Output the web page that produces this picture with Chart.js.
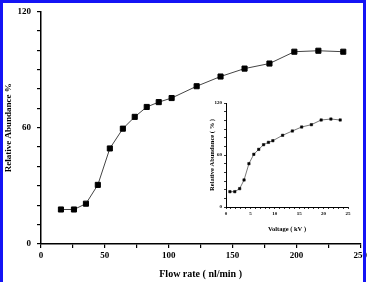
<!DOCTYPE html>
<html>
<head>
<meta charset="utf-8">
<script src="https://cdn.jsdelivr.net/npm/chart.js@4"></script>
<style>
  html, body { margin: 0; padding: 0; background: #fff; }
  .wrap { position: relative; width: 369px; height: 282px; overflow: hidden; }
  .frame {
    position: absolute; left: 0; top: 0; width: 360px; height: 282px;
    border-left: 3px solid #1414f5; border-top: 3px solid #1414f5; border-right: 3px solid #1414f5;
    box-sizing: content-box;
  }
  #main { position: absolute; left: 0; top: 0; }
  #inset { position: absolute; left: 200px; top: 95px; }
</style>
</head>
<body>
<div class="wrap">
  <canvas id="main" width="369" height="282"></canvas>
  <canvas id="inset" width="160" height="140"></canvas>
  <div class="frame"></div>
</div>
<script>
// main plot: flow rate vs relative abundance
const flowRates = [15.6, 25.8, 35.2, 44.5, 53.9, 64.1, 73.4, 82.8, 92.2, 102.3,
                   121.9, 140.6, 159.4, 178.9, 198.4, 217.2, 236.7];
const flowAbundance = [17.8, 17.8, 20.8, 30.5, 49.3, 59.5, 65.6, 70.7, 73.2, 75.3,
                       81.4, 86.4, 90.5, 93.1, 99.2, 99.7, 99.2];

// inset: voltage vs relative abundance
const voltages = [0.8, 1.8, 2.8, 3.7, 4.7, 5.7, 6.7, 7.7, 8.7, 9.6,
                  11.6, 13.6, 15.5, 17.5, 19.5, 21.5, 23.4];
const voltAbundance = [17.7, 17.7, 21.2, 31.2, 50.0, 60.8, 66.5, 71.9, 74.6, 76.5,
                       82.7, 87.7, 92.3, 95.0, 100.4, 101.5, 100.4];

const mainYLabels = [0, 60, 120];
const mainXLabels = [0, 50, 100, 150, 200, 250];
const insetYLabels = [0, 60, 120];
const insetXLabels = [0, 5, 10, 15, 20, 25];

const serif = 'Liberation Serif';

function toPoints(xs, ys) {
  return xs.map((x, i) => ({ x: x, y: ys[i] }));
}

// Main chart
new Chart(document.getElementById('main').getContext('2d'), {
  type: 'scatter',
  data: {
    datasets: [{
      data: toPoints(flowRates, flowAbundance),
      showLine: true,
      borderColor: '#444',
      borderWidth: 1,
      pointStyle: 'rect',
      pointRadius: 3.6,
      pointBackgroundColor: '#000',
      pointBorderColor: '#000',
      pointBorderWidth: 1
    }]
  },
  options: {
    responsive: false,
    animation: false,
    layout: { padding: { left: 0, top: 8, right: 8, bottom: 0 } },
    plugins: { legend: { display: false }, tooltip: { enabled: false } },
    scales: {
      x: {
        type: 'linear', min: 0, max: 250,
        afterFit: (s) => { s.height = 38; },
        border: { display: true, color: '#000', width: 1.5 },
        grid: { drawOnChartArea: false, drawTicks: true, tickLength: 4, color: '#000', lineWidth: 1.2 },
        ticks: {
          stepSize: 25, autoSkip: false, maxRotation: 0, padding: 2, color: '#000',
          font: { family: serif, size: 9, weight: 'bold' },
          callback: (v) => mainXLabels.includes(v) ? String(v) : ''
        },
        title: {
          display: true, text: 'Flow rate ( nl/min )', color: '#000',
          font: { family: serif, size: 10, weight: 'bold' },
          padding: { top: 0, bottom: 2 }
        }
      },
      y: {
        type: 'linear', min: 0, max: 120,
        afterFit: (s) => { s.width = 41; },
        border: { display: true, color: '#000', width: 1.5 },
        grid: { drawOnChartArea: false, drawTicks: true, tickLength: 4, color: '#000', lineWidth: 1.2 },
        ticks: {
          stepSize: 10, autoSkip: false, padding: 6, color: '#000',
          font: { family: serif, size: 9, weight: 'bold' },
          callback: (v) => mainYLabels.includes(v) ? String(v) : ''
        },
        title: {
          display: true, text: 'Relative Abundance %', color: '#000',
          font: { family: serif, size: 9, weight: 'bold' },
          padding: { top: 3, bottom: 0 }
        }
      }
    }
  }
});

// Inset chart
new Chart(document.getElementById('inset').getContext('2d'), {
  type: 'scatter',
  data: {
    datasets: [{
      data: toPoints(voltages, voltAbundance),
      showLine: true,
      borderColor: '#555',
      borderWidth: 0.8,
      pointStyle: 'rect',
      pointRadius: 1.7,
      pointBackgroundColor: '#000',
      pointBorderColor: '#000',
      pointBorderWidth: 0.5
    }]
  },
  options: {
    responsive: false,
    animation: false,
    layout: { padding: { left: 0, top: 8, right: 12, bottom: 0 } },
    plugins: { legend: { display: false }, tooltip: { enabled: false } },
    scales: {
      x: {
        type: 'linear', min: 0, max: 25,
        afterFit: (s) => { s.height = 28; },
        border: { display: true, color: '#000', width: 1 },
        grid: { drawOnChartArea: false, drawTicks: true, tickLength: 2, color: '#000', lineWidth: 0.8 },
        ticks: {
          stepSize: 1, autoSkip: false, maxRotation: 0, padding: 2, color: '#000',
          font: { family: serif, size: 5, weight: 'bold' },
          callback: (v) => insetXLabels.includes(v) ? String(v) : ''
        },
        title: {
          display: true, text: 'Voltage ( kV )', color: '#000',
          font: { family: serif, size: 6.5, weight: 'bold' },
          padding: { top: 0, bottom: 2 }
        }
      },
      y: {
        type: 'linear', min: 0, max: 120,
        afterFit: (s) => { s.width = 26; },
        border: { display: true, color: '#000', width: 1 },
        grid: { drawOnChartArea: false, drawTicks: true, tickLength: 2, color: '#000', lineWidth: 0.8 },
        ticks: {
          stepSize: 10, autoSkip: false, padding: 2, color: '#000',
          font: { family: serif, size: 5, weight: 'bold' },
          callback: (v) => insetYLabels.includes(v) ? String(v) : ''
        },
        title: {
          display: true, text: 'Relative Abundance ( % )', color: '#000',
          font: { family: serif, size: 6.5, weight: 'bold' },
          padding: { top: 8, bottom: 0 }
        }
      }
    }
  }
});
</script>
</body>
</html>
